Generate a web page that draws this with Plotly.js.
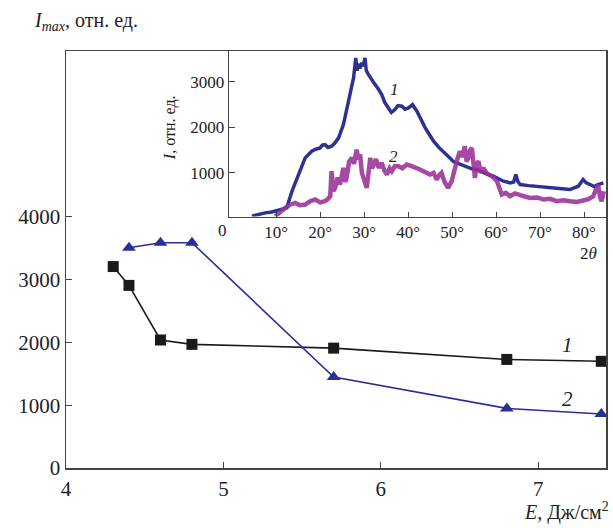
<!DOCTYPE html>
<html>
<head>
<meta charset="utf-8">
<script src="https://cdn.plot.ly/plotly-3.0.1.min.js"></script>
<style>html,body{margin:0;padding:0;background:#fff;}</style>
</head>
<body>
<div id="chart" style="width:613px;height:528px;"></div>
<script>
// Main chart: I_max vs E
const E1 = [4.3, 4.4, 4.6, 4.8, 5.7, 6.8, 7.4];
const I1 = [3210, 2910, 2040, 1970, 1910, 1730, 1700];
const E2 = [4.4, 4.6, 4.8, 5.7, 6.8, 7.4];
const I2 = [3510, 3590, 3590, 1450, 950, 860];
const mainXTicks = [4, 5, 6, 7];
const mainYTicks = [0, 1000, 2000, 3000, 4000];

// Inset: diffraction patterns I vs 2theta
const th1 = [4.5, 6, 7.5, 9, 9.8, 11, 12.4, 13.6, 14.3, 15.1, 15.8, 16.6, 17.3, 18.1, 19, 20, 20.5, 21.1, 21.8, 22.6, 23.3, 24.2, 25.3, 26.4, 27.1, 27.6, 28.1, 28.4, 28.7, 29.1, 29.5, 29.8, 30.2, 30.5, 31.0, 31.7, 32.5, 33.2, 34.0, 34.7, 35.5, 36.2, 37.0, 37.7, 38.6, 39.3, 40.1, 41, 42.0, 43, 43.9, 44.8, 45.8, 47, 48.0, 48.7, 49.5, 50.3, 51.1, 52.2, 53.3, 54.5, 55.6, 56.3, 57.1, 58.2, 59.4, 60.5, 61.7, 62.5, 63.2, 64.0, 64.5, 65.0, 65.5, 67.4, 69.3, 71, 73.0, 75, 76.8, 78.7, 79.8, 80.5, 81.4, 82.3, 83.2, 84.4];
const int1 = [48, 90, 121, 140, 157, 190, 231, 597, 780, 963, 1150, 1330, 1400, 1476, 1520, 1549, 1610, 1620, 1560, 1585, 1650, 1770, 2062, 2575, 2850, 3088, 3528, 3250, 3400, 3300, 3418, 3350, 3528, 3250, 3161, 3050, 2941, 2850, 2722, 2550, 2429, 2330, 2392, 2480, 2466, 2400, 2429, 2500, 2356, 2150, 1990, 1850, 1697, 1560, 1477, 1400, 1330, 1250, 1220, 1180, 1147, 1090, 1074, 1040, 1000, 960, 927, 870, 817, 800, 780, 800, 963, 800, 744, 720, 707, 690, 670, 650, 634, 707, 853, 780, 744, 700, 744, 780];
const th2 = [9.8, 11, 12.1, 13.2, 14.3, 15.4, 16.6, 17.8, 18.9, 20, 21.1, 21.8, 22.3, 22.6, 23.0, 23.4, 24.0, 24.5, 25.0, 25.3, 25.7, 26.0, 26.6, 27.2, 27.7, 28.3, 28.7, 29.1, 29.5, 29.9, 30.3, 30.6, 31.0, 31.4, 31.8, 32.1, 32.7, 33.3, 34.0, 34.6, 35.2, 35.8, 36.3, 37.0, 37.8, 38.7, 39.7, 40.8, 42.0, 42.7, 43.8, 45.0, 45.8, 46.5, 47.1, 47.6, 48.3, 49.1, 49.9, 50.6, 51.2, 51.8, 52.3, 52.9, 53.3, 53.7, 54.1, 54.5, 54.9, 55.2, 55.6, 56.0, 56.5, 57.1, 57.8, 58.6, 59.4, 60.2, 61.3, 62.2, 63.2, 64.3, 65.5, 66.6, 67.7, 69.3, 70.8, 72.3, 73.8, 75.3, 76.8, 78.3, 79.8, 81.0, 82.1, 82.7, 83.2, 83.6, 84.0, 84.5];
const int2 = [48, 150, 231, 300, 341, 290, 304, 380, 414, 350, 377, 430, 487, 1037, 600, 670, 900, 744, 1000, 1110, 800, 890, 1250, 1330, 1200, 1513, 1300, 1403, 1000, 890, 750, 670, 1000, 1330, 1100, 1183, 1300, 1110, 1220, 1050, 963, 1100, 1037, 1150, 1147, 1100, 1183, 1150, 1110, 1074, 1020, 963, 1000, 853, 950, 1000, 800, 670, 817, 1110, 1300, 1477, 1350, 1587, 1250, 1330, 1500, 1550, 1000, 890, 1200, 1257, 1000, 1110, 1000, 963, 900, 817, 524, 560, 487, 550, 524, 480, 450, 460, 414, 430, 377, 400, 377, 360, 392, 420, 487, 600, 744, 500, 377, 597];
const insetXTicks = [10, 20, 30, 40, 50, 60, 70, 80];
const insetXLabels = ['10°', '20°', '30°', '40°', '50°', '60°', '70°', '80°'];
const insetYTicks = [1000, 2000, 3000];

const FONT = "'Liberation Serif', 'DejaVu Serif', serif";
const TXT = '#222';

const traces = [
  {x: E1, y: I1, type: 'scatter', mode: 'lines+markers', xaxis: 'x', yaxis: 'y',
   line: {color: '#1a1a1a', width: 1.6},
   marker: {symbol: 'square', size: 11, color: '#1a1a1a'}, hoverinfo: 'skip'},
  {x: E2, y: I2, type: 'scatter', mode: 'lines+markers', xaxis: 'x', yaxis: 'y',
   line: {color: '#2b2f95', width: 1.6},
   marker: {symbol: 'triangle-up', size: 12, color: '#2b2f95'}, hoverinfo: 'skip'},
  {x: th1, y: int1, type: 'scatter', mode: 'lines', xaxis: 'x2', yaxis: 'y2',
   line: {color: '#2d3290', width: 3.5}, hoverinfo: 'skip'},
  {x: th2, y: int2, type: 'scatter', mode: 'lines', xaxis: 'x2', yaxis: 'y2',
   line: {color: 'rgba(152,48,152,0.88)', width: 4.5}, hoverinfo: 'skip'}
];

const axLine = '#444';
const layout = {
  width: 613, height: 528,
  margin: {l: 66, r: 7, t: 51, b: 60},
  paper_bgcolor: '#fff', plot_bgcolor: '#fff',
  showlegend: false,
  font: {family: FONT, color: TXT},
  xaxis: {
    domain: [0, 1], range: [4, 7.43], tickvals: mainXTicks,
    ticks: 'inside', ticklen: 6, tickcolor: axLine,
    showline: true, mirror: true, linecolor: axLine, linewidth: 1.5,
    showgrid: false, zeroline: false,
    tickfont: {family: FONT, size: 21, color: TXT}, ticklabelstandoff: 1
  },
  yaxis: {
    domain: [0, 1], range: [0, 6645], tickvals: mainYTicks,
    ticks: 'inside', ticklen: 6, tickcolor: axLine,
    showline: true, mirror: true, linecolor: axLine, linewidth: 1.5,
    showgrid: false, zeroline: false,
    tickfont: {family: FONT, size: 21, color: TXT}
  },
  xaxis2: {
    domain: [0.302, 1], anchor: 'y2', range: [-0.7, 85],
    tickvals: insetXTicks, ticktext: insetXLabels,
    ticks: 'inside', ticklen: 5, tickcolor: axLine,
    showline: true, linecolor: axLine, linewidth: 1.5,
    showgrid: false, zeroline: false,
    tickfont: {family: FONT, size: 17, color: TXT}
  },
  yaxis2: {
    domain: [0.603, 1], anchor: 'x2', range: [40, 3680],
    tickvals: insetYTicks,
    ticks: 'inside', ticklen: 6, tickcolor: axLine,
    showline: true, linecolor: axLine, linewidth: 1.5,
    showgrid: false, zeroline: false,
    tickfont: {family: FONT, size: 17, color: TXT}
  },
  annotations: [
    {text: '<i>I</i><sub><i>max</i></sub>, отн. ед.', xref: 'paper', yref: 'paper',
     x: -0.063, y: 1.07, xanchor: 'left', yanchor: 'middle', showarrow: false,
     font: {family: FONT, size: 20, color: TXT}},
    {text: '<i>E</i>, Дж/см<sup>2</sup>', xref: 'paper', yref: 'paper',
     x: 1.009, y: -0.105, xanchor: 'right', yanchor: 'middle', showarrow: false,
     font: {family: FONT, size: 20, color: TXT}},
    {text: '<i>1</i>', xref: 'paper', yref: 'paper', x: 0.9296, y: 0.295,
     xanchor: 'center', yanchor: 'middle',
     showarrow: false, font: {family: FONT, size: 21, color: TXT}},
    {text: '<i>2</i>', xref: 'paper', yref: 'paper', x: 0.9296, y: 0.1655,
     xanchor: 'center', yanchor: 'middle',
     showarrow: false, font: {family: FONT, size: 21, color: TXT}},
    {text: '<i>1</i>', xref: 'x2', yref: 'y2', x: 37.0, y: 2831,
     xanchor: 'center', yanchor: 'middle',
     showarrow: false, font: {family: FONT, size: 17, color: TXT}},
    {text: '<i>2</i>', xref: 'x2', yref: 'y2', x: 36.7, y: 1367,
     xanchor: 'center', yanchor: 'middle',
     showarrow: false, font: {family: FONT, size: 17, color: TXT}},
    {text: '2<i>θ</i>', xref: 'paper', yref: 'paper', x: 0.9667, y: 0.515,
     xanchor: 'center', yanchor: 'middle',
     showarrow: false, font: {family: FONT, size: 17, color: TXT}},
    {text: '0', xref: 'paper', yref: 'paper', x: 0.2889, y: 0.5707,
     xanchor: 'center', yanchor: 'middle',
     showarrow: false, font: {family: FONT, size: 17, color: TXT}},
    {text: '<i>I</i>, отн. ед.', xref: 'paper', yref: 'paper', x: 0.1926, y: 0.815,
     xanchor: 'center', yanchor: 'middle',
     textangle: -90, showarrow: false, font: {family: FONT, size: 16, color: TXT}}
  ]
};

Plotly.newPlot('chart', traces, layout, {staticPlot: true, displayModeBar: false});
</script>
</body>
</html>
